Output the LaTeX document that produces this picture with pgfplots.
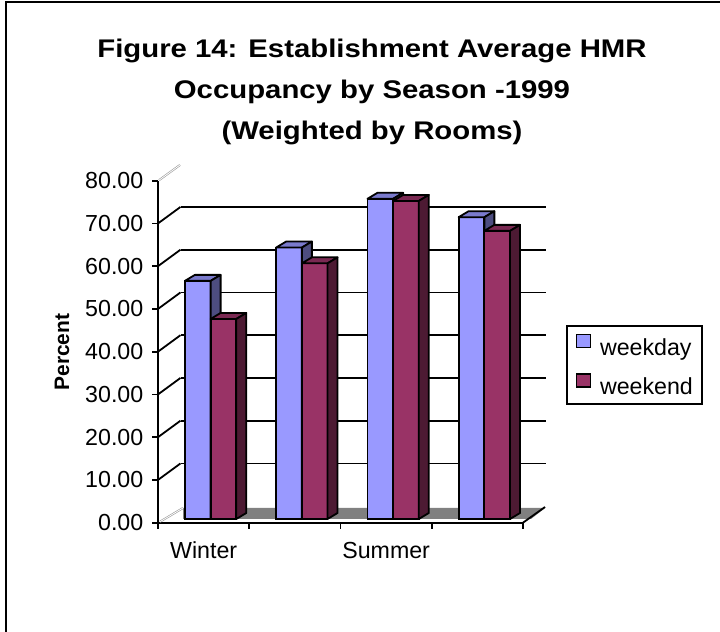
\documentclass[border=0pt]{standalone}
\usepackage{pgfplots}
\usepackage{pgfplotstable}
\pgfplotsset{compat=1.18}
\usepackage{fontspec}
\setmainfont{Liberation Sans}
\newfontfamily\titlefont[FakeStretch=1.15]{Liberation Sans}
\definecolor{wdfront}{HTML}{9999FF}
\definecolor{wdtop}{HTML}{7A7ACC}
\definecolor{wdside}{HTML}{4D4D80}
\definecolor{wefront}{HTML}{993366}
\definecolor{wetop}{HTML}{7A2952}
\definecolor{weside}{HTML}{4D1A33}
\definecolor{floorgray}{HTML}{808080}
\pgfdeclareplotmark{none3d}{}
\pgfplotsset{cubelegend/.style={legend image code/.code={\draw[##1, line width=1.4bp] (0bp,0bp) rectangle (14bp,13bp);}}}
% #1 right edge of the front face (bp from the category centre), #2 front, #3 top, #4 side colour
\newcommand\barcube[4]{%
  \pgfmathsetmacro\barh{\val*4.275}%
  \filldraw[fill=#2, draw=black, line width=1.8bp, line join=round]
    (#1bp-25.7bp,-\barh bp) rectangle (#1bp,0bp);
  \filldraw[fill=#3, draw=black, line width=1.8bp, line join=round]
    (#1bp-25.7bp,0bp) -- (#1bp-15.7bp,6bp) -- (#1bp+10bp,6bp) -- (#1bp,0bp) -- cycle;
  \filldraw[fill=#4, draw=black, line width=1.8bp, line join=round]
    (#1bp,0bp) -- (#1bp+10bp,6bp) -- (#1bp+10bp,6bp-\barh bp) -- (#1bp,-\barh bp) -- cycle;
}
\pgfplotstableread{
x y
1 55.7
2 63.5
3 74.9
4 70.6
}\weekday
\pgfplotstableread{
x y
1 46.8
2 59.8
3 74.4
4 67.4
}\weekend
\begin{document}
\begin{tikzpicture}
\useasboundingbox (0,0) rectangle (720bp,632bp);
\draw[line width=2bp] (5.5bp,0bp) -- (5.5bp,630bp) -- (720bp,630bp);
% titles
\node[anchor=base, inner sep=0pt, font=\titlefont\bfseries\fontsize{25.6}{30}\selectfont] at (372bp,574.5bp) {Figure 14: Establishment Average HMR};
\node[anchor=base, inner sep=0pt, font=\titlefont\bfseries\fontsize{25.6}{30}\selectfont] at (372bp,533bp) {Occupancy by Season -1999};
\node[anchor=base, inner sep=0pt, font=\titlefont\bfseries\fontsize{25.6}{30}\selectfont] at (372bp,492bp) {(Weighted by Rooms)};
\node[rotate=90, inner sep=0pt, font=\bfseries\fontsize{21}{25}\selectfont] at (62bp,280bp) {Percent};
% back wall gridlines
\begin{axis}[at={(180.5bp,125.8bp)}, anchor=south west,
  x=91.25bp, y=4.275bp, xmin=0.5, xmax=4.5, ymin=0, ymax=80,
  axis line style={draw=none}, tick style={draw=none},
  xtick=\empty, ytick={10,20,30,40,50,60,70}, yticklabels={},
  ymajorgrids, major grid style={black, line width=1.8bp}]
\end{axis}
% front axis frame
\begin{axis}[at={(158bp,109.3bp)}, anchor=south west,
  x=91.25bp, y=4.275bp, xmin=0.5, xmax=4.5, ymin=0, ymax=80,
  clip=false,
  axis x line*=bottom, axis y line*=left,
  axis line style={line width=1.8bp, -},
  tick align=outside, major tick length=6bp,
  tick style={black, line width=1.8bp},
  xtick={0.5,1.5,2.5,3.5,4.5}, xticklabels={},
  extra x ticks={1,3}, extra x tick labels={Winter,Summer},
  extra x tick style={tick style={draw=none}},
  ytick={0,10,20,30,40,50,60,70,80},
  tick label style={font=\fontsize{23.3}{28}\selectfont},
  xticklabel style={anchor=north, inner sep=0pt, yshift=-13bp},
  yticklabel style={anchor=east, inner sep=0pt, xshift=-8.5bp},
  /pgf/number format/fixed, /pgf/number format/fixed zerofill,
  /pgf/number format/precision=2, /pgf/number format/assume math mode=true]
\fill[floorgray] ([xshift=25bp,yshift=3.7bp]axis cs:0.5,0) -- ([xshift=8bp,yshift=3.7bp]axis cs:4.5,0)
  -- ([xshift=22bp,yshift=14.7bp]axis cs:4.5,0) -- ([xshift=25bp,yshift=14.7bp]axis cs:0.5,0) -- cycle;
\draw[line width=1.8bp] (axis cs:4.5,0) -- ++(22bp,15.7bp);
\pgfplotsinvokeforeach{10,20,30,40,50,60,70}{
  \draw[line width=1.8bp] (axis cs:0.5,#1) -- ++(22.5bp,16.5bp);
}
\draw[gray!80, double=white, double distance=0.8bp, line width=0.6bp] ([xshift=2bp,yshift=1bp]axis cs:0.5,0) -- ++(23bp,13.7bp);
\draw[gray!80, double=white, double distance=0.8bp, line width=0.6bp] ([xshift=1bp,yshift=0.5bp]axis cs:0.5,80) -- ++(21bp,15.2bp);
\end{axis}
% bars
\begin{axis}[at={(165bp,113bp)}, anchor=south west,
  x=91.25bp, y=4.275bp, xmin=0.5, xmax=4.5, ymin=0, ymax=80,
  hide axis, clip=false,
  legend cell align=left,
  legend style={at={(1.0978,0.5673)}, anchor=north west, draw=black, line width=1.8bp,
    font=\fontsize{23.3}{28}\selectfont, inner xsep=9bp, inner ysep=8bp, row sep=16.5bp,
    nodes={inner sep=0pt}, /tikz/every odd column/.append style={column sep=9bp}}]
\addplot[ybar, bar width=25.7bp, bar shift=-12.85bp, fill=wdfront, draw=black, line width=1.8bp, cubelegend]
  table[x=x, y=y] {\weekday};
\addlegendentry{weekday}
\addplot[ybar, bar width=25.7bp, bar shift=12.85bp, fill=wefront, draw=black, line width=1.8bp, cubelegend]
  table[x=x, y=y] {\weekend};
\addlegendentry{weekend}
\addplot[scatter, only marks, mark=none3d, forget plot,
  visualization depends on={rawy \as \val},
  scatter/@pre marker code/.code={\barcube{0}{wdfront}{wdtop}{wdside}},
  scatter/@post marker code/.code={}]
  table[x=x, y=y] {\weekday};
\addplot[scatter, only marks, mark=none3d, forget plot,
  visualization depends on={rawy \as \val},
  scatter/@pre marker code/.code={\barcube{25.7}{wefront}{wetop}{weside}},
  scatter/@post marker code/.code={}]
  table[x=x, y=y] {\weekend};
\end{axis}
\end{tikzpicture}
\end{document}
